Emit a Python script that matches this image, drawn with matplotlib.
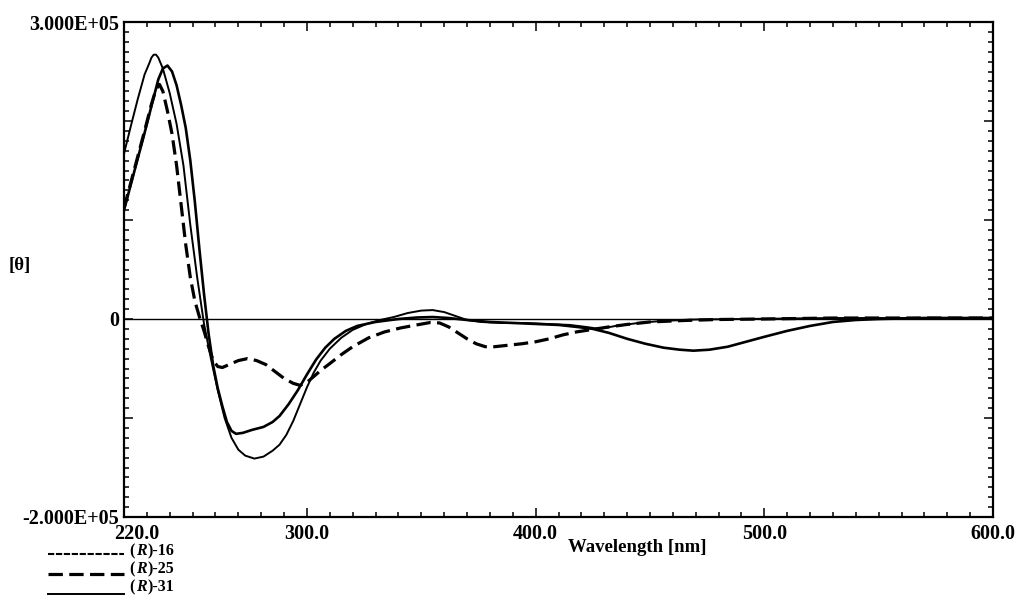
import numpy as np
import matplotlib
matplotlib.use("Agg")
import matplotlib.pyplot as plt
from matplotlib.ticker import MultipleLocator
from matplotlib.lines import Line2D

plt.rcParams['font.family'] = ['Liberation Serif', 'DejaVu Serif']
plt.rcParams['font.weight'] = 'bold'

# ---------------- data (values in units of 1e5) ----------------
series_names = ["(R)-16", "(R)-25", "(R)-31"]

wl_16 = [220, 223, 226, 229, 232, 235, 237, 239, 241, 243, 245, 247, 249, 251, 253, 255,
         257, 259, 261, 263, 265, 267, 269, 272, 276, 281, 285, 288, 292, 296, 300, 304,
         308, 312, 317, 322, 330, 340, 348, 355, 362, 370, 380, 390, 400, 410, 418, 425,
         432, 440, 448, 456, 463, 469, 476, 484, 492, 500, 510, 520, 530, 540, 550, 570, 600]
th_16 = [1.10, 1.36, 1.62, 1.88, 2.15, 2.42, 2.53, 2.56, 2.50, 2.36, 2.16, 1.93, 1.60, 1.18, 0.70, 0.25,
         -0.15, -0.47, -0.70, -0.88, -1.04, -1.13, -1.16, -1.15, -1.12, -1.09, -1.04, -0.98, -0.86, -0.72, -0.56, -0.41,
         -0.29, -0.20, -0.12, -0.07, -0.03, 0.0, 0.015, 0.02, 0.01, -0.01, -0.03, -0.04, -0.05, -0.06, -0.08, -0.10,
         -0.14, -0.20, -0.25, -0.29, -0.31, -0.32, -0.31, -0.28, -0.23, -0.18, -0.12, -0.07, -0.03, -0.01, 0.0, 0.01, 0.01]

wl_25 = [220, 223, 226, 229, 232, 234, 235.5, 237, 239, 241, 243, 245, 247, 249, 251, 253,
         255, 257, 259, 261, 263, 266, 270, 274, 278, 282, 286, 290, 294, 297, 300, 303,
         306, 310, 315, 320, 327, 334, 341, 348, 354, 358, 362, 366, 370, 374, 378, 382,
         388, 394, 400, 406, 412, 418, 425, 432, 440, 450, 465, 480, 500, 530, 560, 600]
th_25 = [1.12, 1.38, 1.64, 1.90, 2.17, 2.32, 2.37, 2.30, 2.10, 1.87, 1.55, 1.15, 0.75, 0.42, 0.18, 0.02,
         -0.12, -0.28, -0.42, -0.48, -0.49, -0.46, -0.42, -0.40, -0.42, -0.46, -0.53, -0.60, -0.65, -0.67, -0.64, -0.58,
         -0.52, -0.45, -0.36, -0.28, -0.19, -0.13, -0.09, -0.06, -0.035, -0.04, -0.08, -0.14, -0.20, -0.25, -0.28, -0.28,
         -0.265, -0.25, -0.23, -0.20, -0.16, -0.13, -0.105, -0.08, -0.055, -0.03, -0.015, -0.005, 0.0, 0.01, 0.01, 0.01]

wl_31 = [220, 223, 226, 229, 231, 232, 233, 234, 235, 237, 240, 243, 246, 249, 252, 255, 258, 261,
         264, 267, 270, 273, 277, 281, 285, 288, 291, 294, 297, 300, 303, 306, 310, 315, 320, 326,
         332, 338, 344, 350, 355, 360, 365, 370, 376, 385, 395, 405, 415, 422, 428, 435,
         445, 455, 470, 490, 510, 530, 560, 600]
th_31 = [1.67, 1.95, 2.22, 2.47, 2.58, 2.64, 2.67, 2.67, 2.64, 2.53, 2.28, 1.97, 1.55, 0.95, 0.42, -0.05, -0.40, -0.72,
         -1.00, -1.20, -1.32, -1.38, -1.41, -1.39, -1.33, -1.27, -1.17, -1.03, -0.86, -0.69, -0.54, -0.42, -0.30, -0.19, -0.11, -0.05,
         -0.01, 0.02, 0.06, 0.085, 0.09, 0.07, 0.03, -0.01, -0.03, -0.04, -0.04, -0.05, -0.06, -0.08, -0.10, -0.07,
         -0.04, -0.02, -0.005, 0.0, 0.005, 0.01, 0.01, 0.01]

x_ticks = [220, 300, 400, 500, 600]
x_ticklabels = ["220.0", "300.0", "400.0", "500.0", "600.0"]
y_ticks = [-2e5, -1e5, 0, 1e5, 2e5, 3e5]
y_ticklabels = ["-2.000E+05", "", "0", "", "", "3.000E+05"]

# ---------------- figure ----------------
W, H = 1016, 596
FS = 14.5
LFS = 11.5
fig = plt.figure(figsize=(W / 100, H / 100), dpi=100)
ax = fig.add_axes([124 / W, 1 - 517 / H, (993 - 124) / W, (517 - 22) / H])

style_16 = dict(color='black', lw=1.9, linestyle='-')
style_25 = dict(color='black', lw=2.3, linestyle=(0, (4.5, 2.0)))
style_31 = dict(color='black', lw=1.4, linestyle='-')
legend_16 = dict(lw=1.5, linestyle=(0, (3, 0.8)))

ax.axhline(0, color='black', lw=1.0, zorder=1)
ax.plot(wl_16, np.array(th_16) * 1e5, **style_16)
ax.plot(wl_25, np.array(th_25) * 1e5, **style_25)
ax.plot(wl_31, np.array(th_31) * 1e5, **style_31)

ax.set_xlim(220, 600)
ax.set_ylim(-2e5, 3e5)

ax.set_xticks(x_ticks)
ax.set_xticklabels([""] + x_ticklabels[1:])
ax.xaxis.set_minor_locator(MultipleLocator(10))
ax.set_yticks(y_ticks)
ax.set_yticklabels(y_ticklabels)
ax.yaxis.set_minor_locator(MultipleLocator(1e4))

ax.tick_params(which='both', direction='in', top=True, right=True, width=1.1,
               labelsize=FS, colors='black')
ax.tick_params(which='major', length=6.5)
ax.tick_params(which='minor', length=3.3)
ax.tick_params(axis='x', pad=5.0)
ax.tick_params(axis='y', pad=3.5)
for lbl in ax.get_xticklabels() + ax.get_yticklabels():
    lbl.set_fontweight('bold')

# 220.0 label (slightly shifted right as in the reference)
ax.annotate(x_ticklabels[0], xy=(220, 0), xycoords=('data', 'axes fraction'),
            xytext=(9.5, -5.0), textcoords='offset points', ha='center', va='top',
            fontsize=FS, fontweight='bold')

for sp in ax.spines.values():
    sp.set_linewidth(1.6)

# axis labels
fig.text(20 / W, 1 - 265 / H, "[θ]", ha='center', va='center', fontsize=13.5, fontweight='bold')
fig.text(637 / W, 1 - 548 / H, "Wavelength [nm]", ha='center', va='center', fontsize=13.5,
         fontweight='bold')

# legend (hand-drawn below the axes)
legend_rows = [("16", legend_16, 554, 551),
               ("25", style_25, 574, 569),
               ("31", style_31, 594, 587)]
for num, st, ly, ty in legend_rows:
    fig.add_artist(Line2D([48 / W, 124 / W], [1 - ly / H, 1 - ly / H], transform=fig.transFigure,
                          color='black', lw=st['lw'], linestyle=st['linestyle']))
    t1 = fig.text(129 / W, 1 - ty / H, "(", ha='left', va='center', fontsize=LFS, fontweight='bold')
    t2 = plt.annotate("R", xy=(1, 0), xycoords=t1, xytext=(1.0, 0), textcoords='offset points',
                      ha='left', va='bottom', fontsize=LFS, fontweight='bold', fontstyle='italic',
                      annotation_clip=False)
    t3 = plt.annotate(")-" + num, xy=(1, 0), xycoords=t2, xytext=(1.0, 0), textcoords='offset points',
                      ha='left', va='bottom', fontsize=LFS, fontweight='bold', annotation_clip=False)

fig.savefig("out.png", dpi=100)
